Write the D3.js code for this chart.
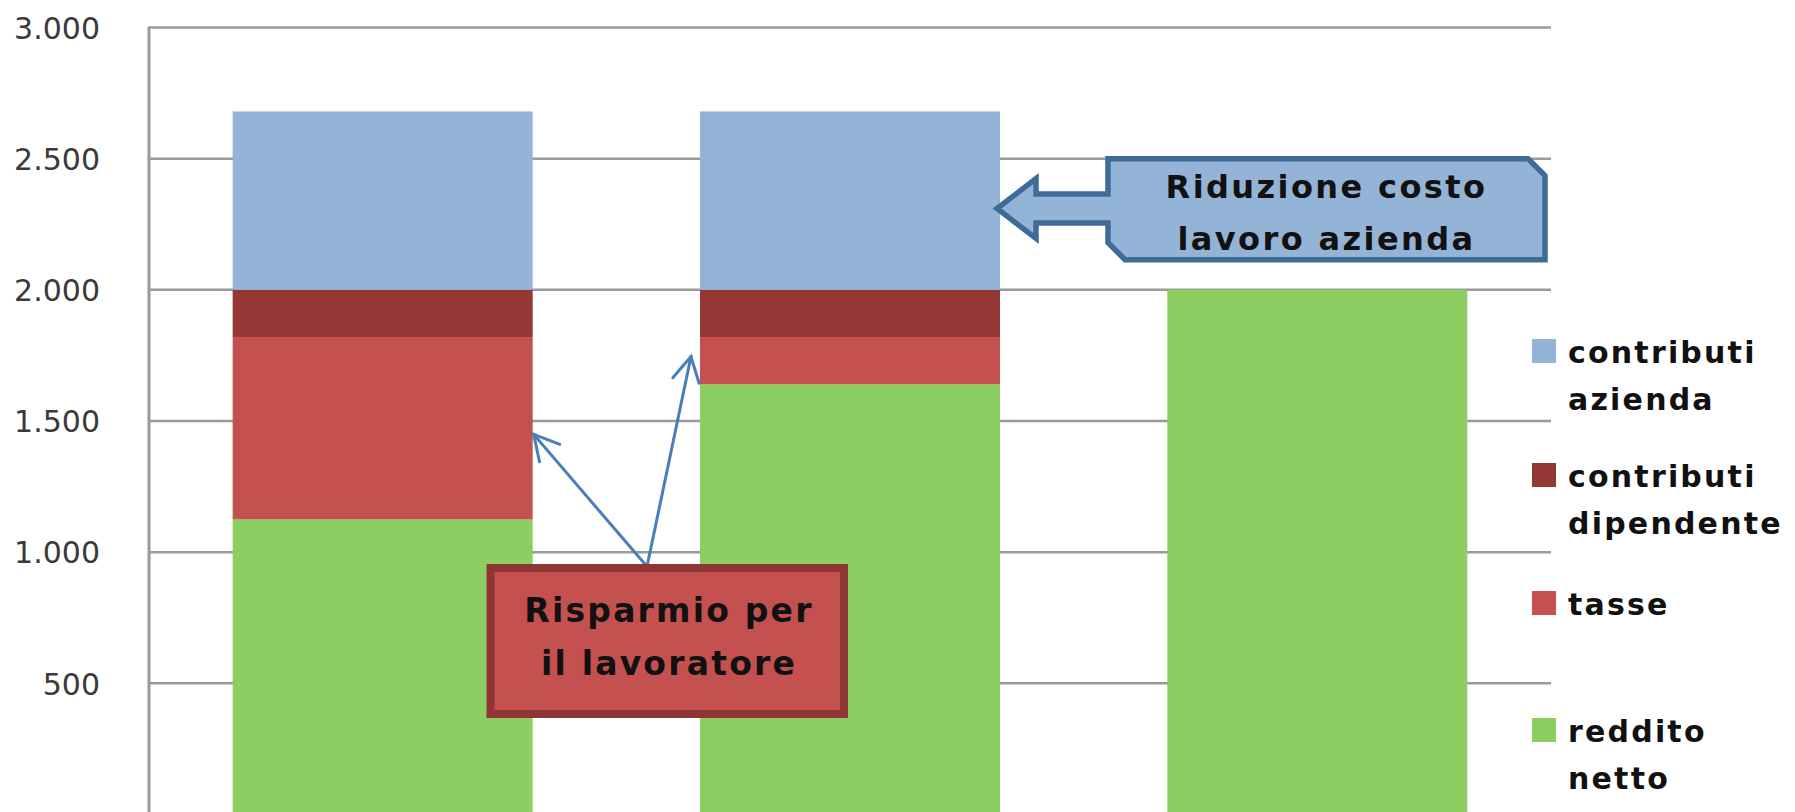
<!DOCTYPE html>
<html>
<head>
<meta charset="utf-8">
<script src="https://cdn.jsdelivr.net/npm/d3@7"></script>
<style>
    body { margin: 0; background: #fff; }
    svg { display: block; }
</style>
</head>
<body>
<div id="chart"></div>
<script>
// chart values
const categories = ["situazione attuale", "con riduzione", "lordo"];
const redditoNetto = [1125, 1640, 2000];
const tasse = [695, 180, 0];
const contributiDipendente = [180, 180, 0];
const contributiAzienda = [680, 680, 0];
const yTicks = [500, 1000, 1500, 2000, 2500, 3000];

const seriesNames = ["reddito netto", "tasse", "contributi dipendente", "contributi azienda"];
const seriesColors = ["#8dce62", "#c4504f", "#953735", "#93b3d7"];
// legend is listed top to bottom in reverse stacking order
const legendLines = [
    ["contributi", "azienda"],
    ["contributi", "dipendente"],
    ["tasse"],
    ["reddito", "netto"]
];

const width = 1795;
const height = 812;
const plot = {left: 149, right: 1551, top: 27.5, bottom: 814.5};

const svg = d3.select("#chart")
    .append("svg")
    .attr("width", width)
    .attr("height", height);

svg.append("rect")
    .attr("width", width)
    .attr("height", height)
    .attr("fill", "#fff");

const x = d3.scaleBand()
    .domain(categories)
    .range([plot.left, plot.right])
    .paddingInner(0.358)
    .paddingOuter(0.179);

const y = d3.scaleLinear()
    .domain([0, 3000])
    .range([plot.bottom, plot.top]);

// gridlines
svg.append("g")
    .selectAll("line")
    .data(yTicks)
    .enter().append("line")
    .attr("x1", plot.left)
    .attr("x2", plot.right)
    .attr("y1", function (d) {return y(d);})
    .attr("y2", function (d) {return y(d);})
    .attr("stroke", "#9a9a9a")
    .attr("stroke-width", 2.5);

// y axis labels
const yAxis = d3.axisLeft(y)
    .tickValues(yTicks)
    .tickSize(0)
    .tickPadding(0)
    .tickFormat(function (d) {return d3.format(",")(d).replace(/,/g, ".");});

const axisG = svg.append("g")
    .attr("transform", "translate(100,0)")
    .call(yAxis);
axisG.select(".domain").remove();
axisG.selectAll("text")
    .attr("font-family", "DejaVu Sans, Verdana, sans-serif")
    .attr("font-size", 30)
    .attr("fill", "#3a3a3a")
    .attr("dy", "0.36em");

// stacked bars
const rows = categories.map(function (c, i) {
    return {
        cat: c,
        "reddito netto": redditoNetto[i],
        "tasse": tasse[i],
        "contributi dipendente": contributiDipendente[i],
        "contributi azienda": contributiAzienda[i]
    };
});
const stacked = d3.stack().keys(seriesNames)(rows);

svg.append("g")
    .selectAll("g")
    .data(stacked)
    .enter().append("g")
    .attr("fill", function (d, i) {return seriesColors[i];})
    .selectAll("rect")
    .data(function (d) {return d.filter(function (p) {return p[1] - p[0] > 0;});})
    .enter().append("rect")
    .attr("x", function (d) {return x(d.data.cat);})
    .attr("width", x.bandwidth())
    .attr("y", function (d) {return y(d[1]);})
    .attr("height", function (d) {return y(d[0]) - y(d[1]);});

// y axis line
svg.append("line")
    .attr("x1", plot.left)
    .attr("x2", plot.left)
    .attr("y1", y(3000) - 1)
    .attr("y2", height)
    .attr("stroke", "#9a9a9a")
    .attr("stroke-width", 3);

// legend
const legend = svg.append("g")
    .selectAll("g")
    .data(legendLines)
    .enter().append("g")
    .attr("transform", function (d, i) {return "translate(1532," + [339, 463, 591, 718][i] + ")";});

legend.append("rect")
    .attr("width", 24)
    .attr("height", 24)
    .attr("fill", function (d, i) {return seriesColors[seriesColors.length - 1 - i];});

legend.each(function (d) {
    const t = d3.select(this).append("text")
        .attr("x", 36)
        .attr("y", 24)
        .attr("font-family", "DejaVu Sans, sans-serif")
        .attr("font-weight", "bold")
        .attr("font-size", 30)
        .attr("letter-spacing", 2.2)
        .attr("fill", "#111");
    t.selectAll("tspan")
        .data(d)
        .enter().append("tspan")
        .attr("x", 36)
        .attr("dy", function (s, j) {return j === 0 ? 0 : 47;})
        .text(function (s) {return s;});
});

// ---- annotation: Riduzione costo lavoro azienda ----
const bar2Right = x(categories[1]) + x.bandwidth();
const cL = 1108, cR = 1545, cT = y(2500), cB = y(2115), ch = 17;
const tipY = y(2310);
const shaftHalf = 14.5, headHalf = 30, headBase = bar2Right + 36, tipX = bar2Right - 3;

const callout = d3.path();
callout.moveTo(cL, cT);
callout.lineTo(cR - ch, cT);
callout.lineTo(cR, cT + ch);
callout.lineTo(cR, cB);
callout.lineTo(cL + ch, cB);
callout.lineTo(cL, cB - ch);
callout.lineTo(cL, tipY + shaftHalf);
callout.lineTo(headBase, tipY + shaftHalf);
callout.lineTo(headBase, tipY + headHalf);
callout.lineTo(tipX, tipY);
callout.lineTo(headBase, tipY - headHalf);
callout.lineTo(headBase, tipY - shaftHalf);
callout.lineTo(cL, tipY - shaftHalf);
callout.closePath();

svg.append("path")
    .attr("d", callout.toString())
    .attr("fill", "#93b3d7")
    .attr("stroke", "#3f6b98")
    .attr("stroke-width", 5.5)
    .attr("stroke-linejoin", "miter");

const calloutText = svg.append("text")
    .attr("text-anchor", "middle")
    .attr("font-family", "DejaVu Sans, sans-serif")
    .attr("font-weight", "bold")
    .attr("font-size", 32)
    .attr("letter-spacing", 2.4)
    .attr("fill", "#111");
calloutText.append("tspan").attr("x", (cL + cR) / 2).attr("y", 198).text("Riduzione costo");
calloutText.append("tspan").attr("x", (cL + cR) / 2).attr("y", 250).text("lavoro azienda");

// ---- annotation: Risparmio per il lavoratore ----
const bar1Right = x(categories[0]) + x.bandwidth();
const bar2Left = x(categories[1]);
const arrowStart = [647, y(945)];
const arrowTips = [[bar1Right + 1, y(1449)], [bar2Left - 9, y(1746)]];

const arrows = svg.append("g")
    .attr("stroke", "#4a7ebb")
    .attr("stroke-width", 3)
    .attr("fill", "none")
    .attr("stroke-linecap", "round");

arrowTips.forEach(function (tip) {
    arrows.append("line")
        .attr("x1", arrowStart[0])
        .attr("y1", arrowStart[1])
        .attr("x2", tip[0])
        .attr("y2", tip[1]);
    const ang = Math.atan2(arrowStart[1] - tip[1], arrowStart[0] - tip[0]);
    const len = 28, spread = 0.5;
    arrows.append("polyline")
        .attr("points", [
            [tip[0] + len * Math.cos(ang - spread), tip[1] + len * Math.sin(ang - spread)],
            tip,
            [tip[0] + len * Math.cos(ang + spread), tip[1] + len * Math.sin(ang + spread)]
        ].map(function (p) {return p.join(",");}).join(" "));
});

svg.append("rect")
    .attr("x", 490.5)
    .attr("y", 568)
    .attr("width", 353.5)
    .attr("height", 146)
    .attr("fill", "#c4504f")
    .attr("stroke", "#8e3535")
    .attr("stroke-width", 8);

const saveText = svg.append("text")
    .attr("text-anchor", "middle")
    .attr("font-family", "DejaVu Sans, sans-serif")
    .attr("font-weight", "bold")
    .attr("font-size", 33)
    .attr("letter-spacing", 2.2)
    .attr("fill", "#111");
saveText.append("tspan").attr("x", 669).attr("y", 622).text("Risparmio per");
saveText.append("tspan").attr("x", 669).attr("y", 675).text("il lavoratore");
</script>
</body>
</html>
